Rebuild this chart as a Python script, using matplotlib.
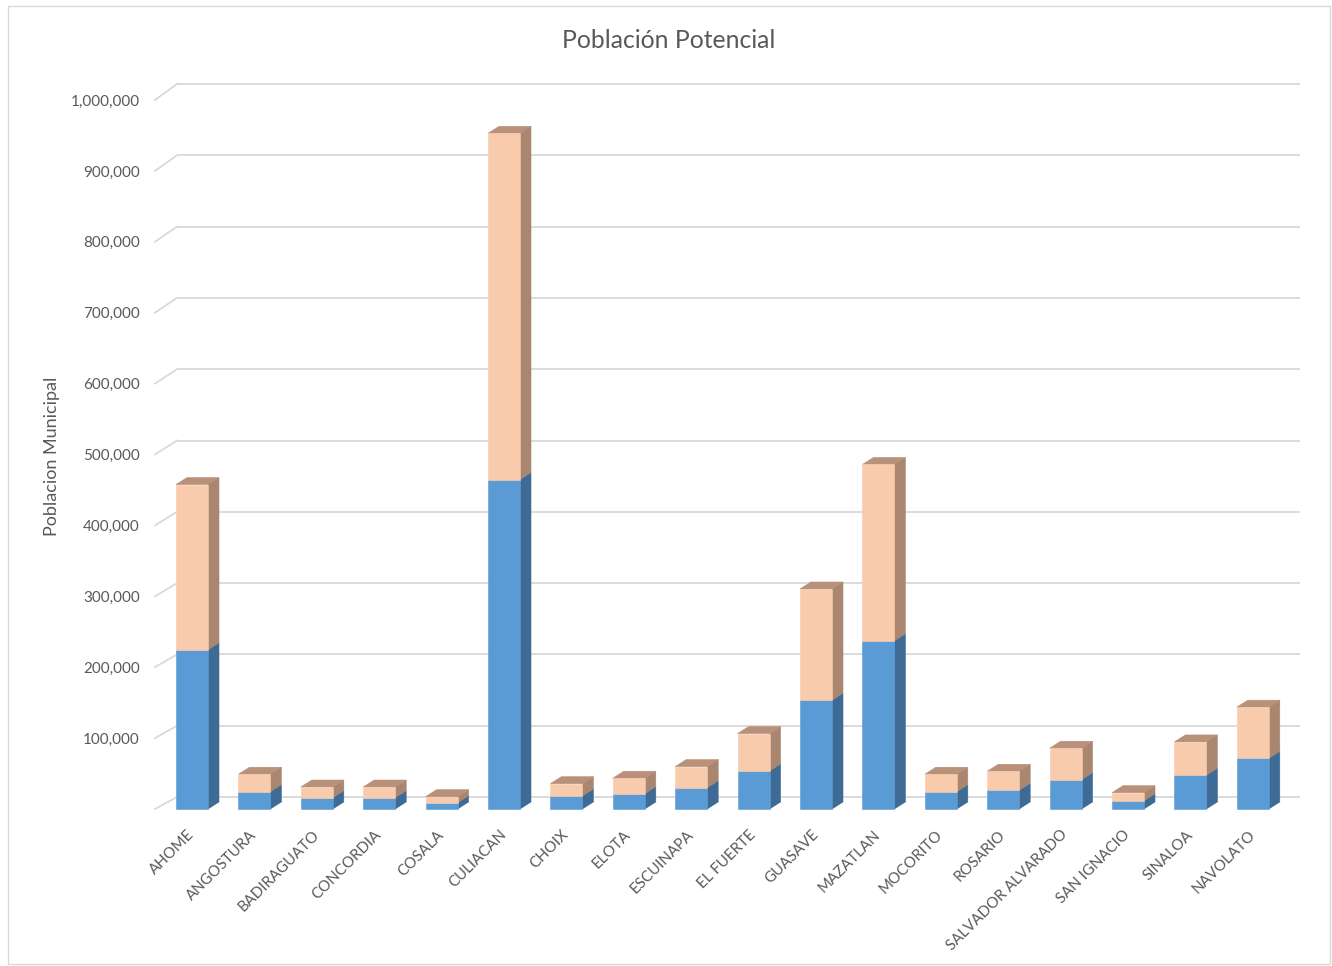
import matplotlib
matplotlib.use("Agg")
import matplotlib.pyplot as plt
from matplotlib.patches import Polygon, Rectangle
from matplotlib.ticker import FuncFormatter

# Municipalities and the two stacked population components
municipios = ["AHOME", "ANGOSTURA", "BADIRAGUATO", "CONCORDIA", "COSALA", "CULIACAN",
              "CHOIX", "ELOTA", "ESCUINAPA", "EL FUERTE", "GUASAVE", "MAZATLAN",
              "MOCORITO", "ROSARIO", "SALVADOR ALVARADO", "SAN IGNACIO", "SINALOA", "NAVOLATO"]
serie_1 = [224600, 24400, 16000, 16000, 8900, 464700, 18400, 21600, 30100,
           53700, 153500, 237300, 24400, 26400, 41400, 11700, 47600, 71600]
serie_2 = [233000, 24600, 15000, 15000, 8500, 488300, 17300, 21800, 29700,
           52700, 156800, 248600, 24600, 26800, 44300, 11300, 47000, 72000]
y_ticks = list(range(0, 1_000_001, 100_000))

titulo = "Población Potencial"
etiqueta_y = "Poblacion Municipal"

# Figure / styling
W, H, DPI = 1332, 966, 100
FONT = "Lato"
TXT = "#595959"
GRID = "#d9d9d9"
BLUE_FRONT, BLUE_SIDE = "#5b9bd5", "#3e6b96"
PEACH_FRONT, PEACH_SIDE, PEACH_TOP = "#f8cbad", "#a8866f", "#b99079"

fig = plt.figure(figsize=(W / DPI, H / DPI), dpi=DPI)
fig.patch.set_facecolor("white")

# Front plane of the 3-D plot area, in pixels
left_px, right_px, zero_px, top_px = 155, 1278, 809, 100
ax = fig.add_axes([left_px / W, 1 - zero_px / H,
                   (right_px - left_px) / W, (zero_px - top_px) / H])
slot_px = 62.4
first_px = 192
xmin = (left_px - first_px) / slot_px
xmax = (right_px - first_px) / slot_px
ax.set_xlim(xmin, xmax)
ax.set_ylim(0, 1_000_000)
ax.set_facecolor("none")
for s in ax.spines.values():
    s.set_visible(False)

val_per_px = 1_000_000 / (zero_px - top_px)

# Depth of the back wall and of the bars
WALL_DX = 22 / slot_px
def wall_dy(v):
    return (12 + 4 * v / 1_000_000) * val_per_px

BAR_W = 32 / slot_px
BAR_DX = 11 / slot_px
BAR_DY = 7 * val_per_px

# Back wall gridlines and left wall diagonals
for v in y_ticks:
    yb = v + wall_dy(v)
    ax.plot([xmin + WALL_DX, xmax + WALL_DX], [yb, yb], color=GRID, lw=1.3,
            clip_on=False, zorder=1, solid_capstyle="butt")
    ax.plot([xmin, xmin + WALL_DX], [v, yb], color=GRID, lw=1.3,
            clip_on=False, zorder=1)


def box(x, y0, y1, front, side, top=None):
    xl, xr = x - BAR_W / 2, x + BAR_W / 2
    kw = dict(clip_on=False, zorder=3, lw=0.4)
    ax.add_patch(Polygon([(xr, y0), (xr + BAR_DX, y0 + BAR_DY),
                          (xr + BAR_DX, y1 + BAR_DY), (xr, y1)],
                         closed=True, fc=side, ec=side, **kw))
    if top is not None:
        ax.add_patch(Polygon([(xl, y1), (xl + BAR_DX, y1 + BAR_DY),
                              (xr + BAR_DX, y1 + BAR_DY), (xr, y1)],
                             closed=True, fc=top, ec=top, **kw))
    ax.add_patch(Polygon([(xl, y0), (xr, y0), (xr, y1), (xl, y1)],
                         closed=True, fc=front, ec=front, **kw))


for i, (a, b) in enumerate(zip(serie_1, serie_2)):
    box(i, 0, a, BLUE_FRONT, BLUE_SIDE)
    box(i, a, a + b, PEACH_FRONT, PEACH_SIDE, PEACH_TOP)

# Axis labels
ax.set_yticks(y_ticks[1:])
ax.yaxis.set_major_formatter(FuncFormatter(lambda v, p: f"{int(v):,}"))
ax.tick_params(axis="y", length=0, pad=11, labelsize=11, labelcolor=TXT)
for t in ax.get_yticklabels():
    t.set_fontfamily(FONT)

ax.set_xticks(range(len(municipios)))
ax.set_xticklabels(municipios, rotation=45, ha="right", va="center",
                   rotation_mode="anchor", fontsize=10.8, color=TXT, family=FONT)
ax.tick_params(axis="x", length=0, pad=17)

fig.text(669 / W, 1 - 40 / H, titulo, ha="center", va="center",
         fontsize=17.8, color=TXT, family=FONT)
fig.text(52 / W, 1 - 456 / H, etiqueta_y, ha="center", va="center",
         rotation=90, fontsize=13, color=TXT, family=FONT)

# Chart-area border
fig.add_artist(Rectangle((8 / W, 2 / H), (1330 - 8) / W, (964 - 6) / H,
                         transform=fig.transFigure, fill=False,
                         ec=GRID, lw=1))

fig.savefig("out.png", dpi=DPI)
